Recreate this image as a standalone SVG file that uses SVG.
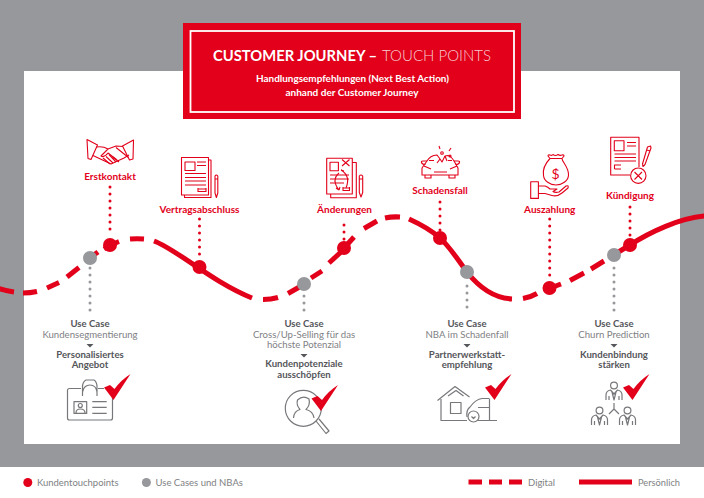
<svg xmlns="http://www.w3.org/2000/svg" xmlns:xlink="http://www.w3.org/1999/xlink" width="704" height="498" viewBox="0 0 704 498">
<style>
text{font-family:"Lato","Liberation Sans",sans-serif;text-anchor:middle}
.lab{font-size:10px;font-weight:700;fill:#e2001a}
.uc{font-size:9.6px;font-weight:700;fill:#55565a}
.ucl{font-size:9.6px;fill:#808184}
.lg{font-size:9.4px;fill:#808184;text-anchor:start}
.w{fill:none;stroke:#e2001a;stroke-width:5}
.rd{fill:none;stroke:#e2001a;stroke-width:3;stroke-linecap:round;stroke-dasharray:0 7}
.gd{fill:none;stroke:#97989b;stroke-width:3;stroke-linecap:round;stroke-dasharray:0 7}
.ri{fill:none;stroke:#e2001a;stroke-width:1.1;stroke-linejoin:round}
.gi{fill:none;stroke:#77787b;stroke-width:1.2;stroke-linejoin:round}
.r{fill:#e2001a}.g{fill:#97989b}
</style>
<defs>
<path id="check" d="M104,387.500 L110,385 L114.500,389 Q121,380 130.500,374 Q122,387 113.500,400 Z" fill="#e2001a"/>
<g id="person" class="gi"><circle cx="0" cy="-5.5" r="3.4"/><path d="M-8,9 V4 Q-8,0 -3.5,-1 L0,3 L3.5,-1 Q8,0 8,4 V9 M-5,9 V5 M5,9 V5 M-2,1 L0,9 L2,1"/></g>
</defs>
<rect id="band" width="704" height="467" class="g"/>
<rect id="panel" x="24" y="71" width="656" height="373" fill="#fff"/>

<g id="header">
<rect x="183" y="23" width="338" height="96" class="r"/>
<rect x="190.500" y="31" width="323.500" height="81" fill="none" stroke="#fff" stroke-width="1.800"/>
<text x="213" y="61" style="text-anchor:start;font-size:15.500px;font-weight:700;fill:#fff" textLength="164" lengthAdjust="spacingAndGlyphs">CUSTOMER JOURNEY –</text>
<text x="382" y="61" style="text-anchor:start;font-size:15.500px;font-weight:300;fill:#f7ccd1" textLength="109" lengthAdjust="spacingAndGlyphs">TOUCH POINTS</text>
<text x="352.500" y="81.500" style="font-size:9.8px;font-weight:700;fill:#fff" textLength="193" lengthAdjust="spacingAndGlyphs">Handlungsempfehlungen (Next Best Action)</text>
<text x="352" y="96" style="font-size:9.8px;font-weight:700;fill:#fff" textLength="133" lengthAdjust="spacingAndGlyphs">anhand der Customer Journey</text>
</g>

<g id="connectors">
<path class="rd" d="M110,187V236"/>
<path class="rd" d="M199.500,219V260"/>
<path class="rd" d="M344,225V240"/>
<path class="rd" d="M440,202V231"/>
<path class="rd" d="M549.700,219V280"/>
<path class="rd" d="M630,207V237"/>
<path class="gd" d="M90,268V311"/>
<path class="gd" d="M304,296V311"/>
<path class="gd" d="M467,286V311"/>
<path class="gd" d="M614,268V311"/>
<g id="wave">
<path class="w" d="M-1,288.500Q7,291 14,292"/>
<path class="w" d="M23,293Q30,293 37,291.500"/>
<path class="w" d="M47,288L59,282.500"/>
<path class="w" d="M67,277L79,267.500"/>
<path class="w" d="M88,259L98,252"/>
<path class="w" d="M104,249Q112,244 119,241.500"/>
<path class="w" d="M130,239Q137,238.500 144,239"/>
<path class="w" d="M154,241C178,250 212,282 252,298"/>
<path class="w" d="M263,299.500Q271,299.500 278,297.500"/>
<path class="w" d="M288,293.500L302,285.500"/>
<path class="w" d="M311,278L322,271"/>
<path class="w" d="M329,263L341,252"/>
<path class="w" d="M345,247L354,237"/>
<path class="w" d="M364,228.500L377,221"/>
<path class="w" d="M385,218Q392,216.500 400,217"/>
<path class="w" d="M409,219C420,224 431,230 440,238C450,247 458,260 467,272C478,286 492,298 512,299"/>
<path class="w" d="M523,298.500Q531,297 537,293.500"/>
<path class="w" d="M545,290L561,284"/>
<path class="w" d="M570,280.500L584,273"/>
<path class="w" d="M591,269L604,261"/>
<path class="w" d="M612,256L625,248"/>
<path class="w" d="M630,245C650,232 680,218 705,216"/>
</g>
</g>

<g id="erstkontakt">
<circle cx="110" cy="245" r="7" class="r"/>
<text class="lab" x="110" y="180">Erstkontakt</text>
<g class="ri">
<path d="M87,139.500L97.500,145L91,159.500L88,158.500Z"/>
<path d="M133.500,140L122.500,146L129.500,160L133,159Z"/>
<path d="M96.500,147Q103,146 108,149L116,146Q120,146 123,146.500M108,149L101,156Q104,158 108,153L117,160M129,155L124,158L111,164L93,155.500"/>
<path d="M116,147.500L128.500,157.500M103,158L110,164M106,156.500L113,163M109,154.500L116,162M113,157L119,162"/>
</g>
</g>

<g id="vertragsabschluss">
<circle cx="199.500" cy="267" r="7" class="r"/>
<text class="lab" x="199.500" y="213">Vertragsabschluss</text>
<g class="ri">
<rect x="181.500" y="157.500" width="27" height="37.500"/>
<path d="M208.500,160H211V197.500H184.500V195"/>
<rect x="185" y="162" width="10" height="8.500"/>
<path d="M197,162H206M197,165.500H206M185,173.500H206M185,177.500H206M185,181H206M185,185H206M198,188V191.500H206V188M198,189H206"/>
<path d="M215,176Q216.300,174 217.800,176V193L216.400,197.500L215,193ZM215,179H217.800"/>
</g>
</g>

<g id="aenderungen">
<circle cx="344" cy="248" r="7" class="r"/>
<text class="lab" x="344.500" y="213">Änderungen</text>
<g class="ri">
<rect x="326.700" y="158.300" width="25.600" height="35.700"/>
<path d="M352.300,162.500H356.300V197.700H330.700V194"/>
<rect x="330" y="162.300" width="8.400" height="8.400"/>
<path d="M342,159.500L349.500,166M349.500,159.500L342,166M330,175H349M330,179H349M330,183H344M343,187V190.500H349.500V187M343,188H349.500"/>
<path d="M341,170Q351,176 346,188M341,170L344,171M339,173Q331,180 339,190M339,190L336,188M339,190L340,187"/>
<path d="M359.300,176Q361,174 362.700,176V192.500L361,197L359.300,192.500ZM359.300,179H362.700"/>
</g>
</g>

<g id="schadensfall">
<circle cx="440" cy="238" r="7" class="r"/>
<text class="lab" x="440" y="194">Schadensfall</text>
<g class="ri">
<path d="M427,161Q430,155.500 437,155L440,159L442,162L445,156L448,155.500Q451,156 454,161L458,168V175H422V168Z"/>
<path d="M427,161H423Q421,161 421.500,162.500Q422,164.500 425.500,164.500M454,161H458Q460,161 459.500,162.500Q459,164.500 455.500,164.500M425,175V178H431V175M449,175V178H455V175M434,172H447M424,166L431,169M457,166L450,169M429,160.500H434M448,160.500H452"/>
<path d="M440,159L437,163M445,156L447,161M449,151L451,148M440,149L439,146"/>
<circle cx="442" cy="153" r="1.300"/>
<circle cx="450" cy="156" r="1"/>
</g>
</g>

<g id="auszahlung">
<circle cx="549.500" cy="288" r="7" class="r"/>
<text class="lab" x="549.700" y="213">Auszahlung</text>
<g class="ri">
<path d="M550,158.500H562M550,158.500Q542,167 543.500,175.500C544,181 550,185 556,185C562,185 568,181 568.500,175.500C569,167 562,162 562,158.500"/>
<path d="M550,158.500L548,156Q548,154.500 550,155Q552,156 553,154.500Q555.500,156.500 558,154.500Q560,156 562,155Q564,154.500 564,156L562,158.500"/>
<rect x="530.700" y="181.700" width="7.700" height="16.700"/>
<path d="M538.500,186H545Q548,187 550,189H557L553,191.500Q555,193 559,192L566,186Q569,185 568,188L562,193Q557,197 552,195.500L545,193.500H538.500"/>
</g>
<text x="555.500" y="178.500" style="font-size:14px;fill:#e2001a">$</text>
</g>

<g id="kuendigung">
<circle cx="630" cy="245" r="7" class="r"/>
<text class="lab" x="630" y="199">Kündigung</text>
<g class="ri">
<path d="M630,175H610.700V137.300H639V167"/>
<rect x="614.300" y="140.700" width="9.700" height="10"/>
<path d="M627,142.500H636M627,146H636M614.500,154H636M614.500,157.500H636M614.500,161H636M614.500,169V165H621M614.500,169H621"/>
<circle cx="638.300" cy="175.700" r="7.700"/>
<path d="M634.500,172L642,179.500M642,172L634.500,179.500"/>
<path d="M647.500,147L650.500,146L651,148L645,164.500L643,166.500L642.500,164ZM646.500,150L650,151"/>
</g>
</g>

<g id="uc-segment">
<circle cx="90" cy="258" r="7" class="g"/>
<text class="uc" x="90" y="327">Use Case</text>
<text class="ucl" x="90" y="338">Kundensegmentierung</text>
<path d="M86.500,344H93.500L90,347.500Z" fill="#55565a"/>
<text class="uc" x="90" y="358">Personalisiertes</text>
<text class="uc" x="90" y="368">Angebot</text>
<g class="gi">
<path d="M81,388.500H69.500Q67.500,388.500 67.500,390.500V418Q67.500,420 69.500,420H110.500Q112.500,420 112.500,418V395M98,388.500H104"/>
<path d="M82.500,396V387Q82.500,382 86,380H94Q97,382 97,387V396M82.500,392Q84,385 90,385Q96,385 97,392"/>
<rect x="74" y="401.700" width="12.700" height="11.700"/>
<circle cx="80.300" cy="405.500" r="2"/>
<path d="M76,413Q76,409 80.300,409Q85,409 85,413M92.300,401.700H106.700M92.300,407.300H106.700M92.300,413.300H106.700"/>
</g>
<use xlink:href="#check" href="#check"/>
</g>

<g id="uc-cross">
<circle cx="304" cy="284" r="7" class="g"/>
<text class="uc" x="304" y="327">Use Case</text>
<text class="ucl" x="304" y="338">Cross/Up-Selling für das</text>
<text class="ucl" x="304" y="347.500">höchste Potenzial</text>
<path d="M300.500,354H307.500L304,357.500Z" fill="#55565a"/>
<text class="uc" x="304" y="367">Kundenpotenziale</text>
<text class="uc" x="304" y="377.500">ausschöpfen</text>
<g class="gi">
<circle cx="303.300" cy="408.300" r="18"/>
<path d="M316,421L326,433.500L329,431L319,419"/>
<path d="M293.500,418Q294,411 300,409.500Q296,405 297.500,400Q303,395 309,399Q310.500,405 306,409.500Q313,411 314,418"/>
</g>
<use xlink:href="#check" href="#check" x="207.500" y="11"/>
</g>

<g id="uc-nba">
<circle cx="467" cy="272" r="7" class="g"/>
<text class="uc" x="467" y="327">Use Case</text>
<text class="ucl" x="467" y="338">NBA im Schadenfall</text>
<path d="M463.500,344H470.500L467,347.500Z" fill="#55565a"/>
<text class="uc" x="467" y="358">Partnerwerkstatt-</text>
<text class="uc" x="467" y="368">empfehlung</text>
<g class="gi">
<path d="M437.500,400.500L455,386.500L469.500,397M448,396L456,390.500L463.500,396M441,399V420.500H467"/>
<rect x="450.500" y="402.500" width="10.500" height="11"/>
<path d="M477.500,420.500H497M489.500,420V398.500M489,398.500H482Q476,399 470,407Q466,410 467,417M478,407.500H489"/>
<circle cx="473.500" cy="416.500" r="5.500"/>
<path d="M471.500,416.500L473.500,418.500L475.500,416.500"/>
</g>
<use xlink:href="#check" href="#check" x="381"/>
</g>

<g id="uc-churn">
<circle cx="614" cy="255" r="7" class="g"/>
<text class="uc" x="614" y="327">Use Case</text>
<text class="ucl" x="614" y="338">Churn Prediction</text>
<path d="M610.500,344H617.500L614,347.500Z" fill="#55565a"/>
<text class="uc" x="614" y="358">Kundenbindung</text>
<text class="uc" x="614" y="368">stärken</text>
<use xlink:href="#person" href="#person" x="614" y="391"/>
<use xlink:href="#person" href="#person" x="599.500" y="416"/>
<use xlink:href="#person" href="#person" x="627.500" y="416"/>
<path class="gi" d="M614,403V409M614,409L609,414M614,409L619,414"/>
<use xlink:href="#check" href="#check" x="519"/>
</g>

<g id="legend">
<circle cx="27.800" cy="482.500" r="4.500" class="r"/>
<text class="lg" x="37" y="486" textLength="81.500" lengthAdjust="spacingAndGlyphs">Kundentouchpoints</text>
<circle cx="146.400" cy="482.500" r="4.500" class="g"/>
<text class="lg" x="155.500" y="486" textLength="87.500" lengthAdjust="spacingAndGlyphs">Use Cases und NBAs</text>
<path class="w" d="M468.500,482H482M489,482H502M509,482H522"/>
<text class="lg" x="528" y="485.500" textLength="27" lengthAdjust="spacingAndGlyphs">Digital</text>
<path class="w" d="M579,482H632"/>
<text class="lg" x="638" y="485.500" textLength="42" lengthAdjust="spacingAndGlyphs">Persönlich</text>
</g>
</svg>
